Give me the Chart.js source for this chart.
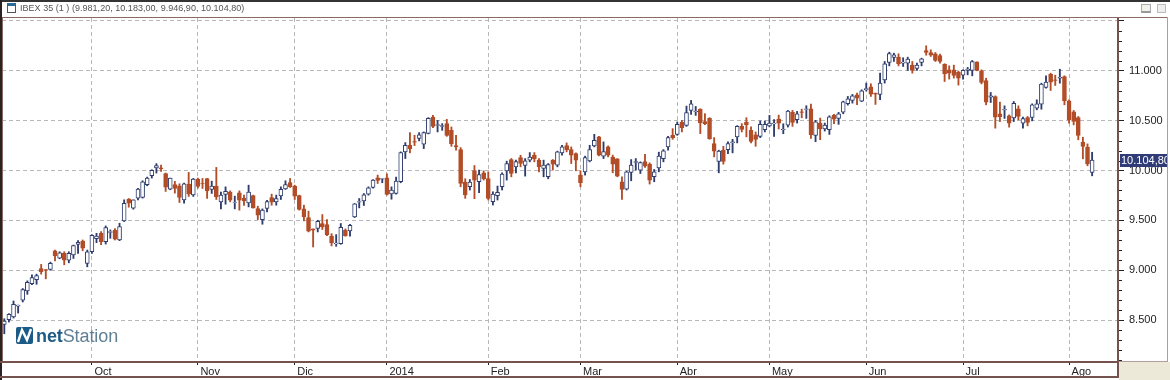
<!DOCTYPE html>
<html><head><meta charset="utf-8">
<script src="https://cdn.jsdelivr.net/npm/chart.js@4"></script>
<style>
html,body{margin:0;padding:0;background:#fff;overflow:hidden}
#wrap{position:relative;width:1170px;height:380px;font-family:"Liberation Sans",Arial,sans-serif;background:#fff}
canvas{position:absolute;left:0;top:0}
.b{position:absolute}
#title{position:absolute;left:20px;top:2px;font-size:9px;line-height:12px;color:#555;white-space:nowrap;letter-spacing:.03px}
#logo{position:absolute;left:36px;top:324px;font-size:18px;line-height:24px;color:#5f7f95;letter-spacing:-.1px}
#logo b{color:#1c5b85}
</style></head><body>
<div id="wrap">
<canvas id="c" width="1170" height="380"></canvas>
<div id="title">IBEX 35 (1 ) (9.981,20, 10.183,00, 9.946,90, 10.104,80)</div>
<div class="b" style="left:0;top:0;width:1170px;height:2px;background:#333"></div>
<div class="b" style="left:0;top:17px;width:1168px;height:1px;background:#8a6a64"></div>
<div class="b" style="left:0;top:0;width:2px;height:380px;background:#2a2220"></div>
<div class="b" style="left:2px;top:18px;width:1px;height:343px;background:#8a6a64"></div>
<div class="b" style="left:1167px;top:17px;width:1px;height:345px;background:#b39d98"></div>
<div class="b" style="left:1117px;top:18px;width:2px;height:359px;background:#74524d"></div>
<div class="b" style="left:0;top:361px;width:1119px;height:2px;background:#74524d"></div>
<div class="b" style="left:1119px;top:361px;width:49px;height:1px;background:#b39d98"></div>
<div class="b" style="left:0;top:376px;width:1119px;height:2px;background:#74524d"></div>
<div class="b" style="left:1119px;top:362px;width:51px;height:18px;background:#ece9d8"></div>
<div class="b" style="left:7px;top:3px;width:9px;height:10px;border:1px solid #555;border-top:3px solid #2d6a96;box-sizing:border-box"></div>
<div class="b" style="left:1141px;top:4px;width:10px;height:9px;border:1px solid #aaa;border-bottom:2px solid #999;box-sizing:border-box;background:#f2f2ea"></div>
<div class="b" style="left:1157px;top:4px;width:9px;height:9px;border:1px solid #bbb;box-sizing:border-box;background:#eee"></div>
<svg class="b" style="left:16px;top:327px" width="17" height="17" viewBox="0 0 17 17"><rect width="17" height="17" rx="2" fill="#1c5b85"/><path d="M2 15 L6 3 L11 13 L15 2" stroke="#fff" stroke-width="2.4" fill="none"/></svg>
<div id="logo"><b>net</b>Station</div>
</div>
<script>
const opens=[8456,8503,8530,8640,8698,8792,8866,8906,9017,9007,9007,9195,9121,9168,9101,9152,9259,9293,9068,9185,9316,9370,9286,9380,9400,9303,9494,9713,9622,9723,9730,9857,9948,10025,10028,9968,9813,9860,9847,9706,9864,9756,9914,9870,9920,9810,9843,9686,9759,9783,9680,9776,9723,9676,9749,9619,9508,9619,9729,9686,9746,9816,9880,9843,9749,9615,9528,9414,9418,9468,9458,9341,9264,9267,9401,9394,9535,9682,9696,9763,9830,9927,9914,9927,9766,9770,9887,10187,10253,10290,10323,10263,10373,10536,10453,10443,10470,10403,10250,10210,9884,9837,10000,9887,9977,9920,9687,9747,9837,9997,10110,10037,10130,10050,10104,10154,10104,10020,9937,10104,10054,10177,10250,10210,10170,9954,9987,10097,10247,10337,10144,10237,10134,10117,9887,9814,9980,10080,10004,10090,10064,9937,10027,10120,10237,10353,10363,10483,10453,10603,10587,10613,10490,10523,10270,10090,10204,10210,10280,10337,10443,10487,10403,10357,10343,10410,10447,10470,10516,10406,10456,10583,10509,10589,10613,10619,10352,10476,10416,10409,10556,10523,10586,10670,10703,10760,10696,10810,10840,10777,10763,10910,11084,11134,11137,11078,11077,11057,11024,11084,11204,11184,11171,11154,11064,11010,11010,10987,10957,11004,11003,11090,10999,10903,10736,10742,10568,10609,10548,10528,10619,10475,10532,10532,10625,10665,10833,10966,10910,10926,10943,10699,10588,10532,10284,10234,9981.2];
const highs=[8513,8564,8691,8650,8816,8893,8953,8960,9058,9007,9081,9202,9185,9185,9185,9252,9296,9303,9202,9357,9370,9387,9444,9404,9417,9471,9706,9719,9706,9820,9897,9934,10008,10069,10055,9975,9924,9891,9867,9874,9981,9921,9924,9920,9920,9893,10031,9783,9836,9796,9743,9796,9753,9853,9753,9642,9615,9702,9763,9753,9836,9897,9920,9853,9753,9652,9592,9414,9501,9558,9508,9367,9357,9468,9414,9461,9669,9719,9769,9836,9910,9954,9920,9967,9836,9934,10187,10280,10380,10353,10380,10387,10530,10553,10503,10470,10513,10437,10353,10230,9917,9910,10050,10004,9997,9987,9787,9844,9977,10094,10120,10104,10153,10120,10180,10180,10120,10104,10070,10110,10194,10253,10277,10237,10177,9997,10144,10253,10363,10343,10287,10247,10154,10120,9937,9994,10110,10120,10087,10163,10077,10010,10184,10210,10343,10420,10487,10503,10646,10703,10643,10620,10570,10530,10330,10204,10243,10287,10313,10450,10470,10530,10437,10387,10497,10497,10553,10510,10556,10469,10603,10603,10593,10616,10650,10666,10503,10526,10476,10549,10563,10583,10696,10743,10763,10777,10810,10877,10870,10777,10977,11094,11187,11177,11171,11131,11137,11094,11077,11127,11251,11211,11184,11167,11071,11050,11057,10997,11010,11034,11104,11090,11010,10926,10783,10749,10686,10649,10558,10692,10649,10535,10542,10669,10709,10876,10950,10976,10956,11016,10950,10709,10602,10542,10334,10267,10183];
const lows=[8362,8480,8520,8570,8681,8758,8856,8859,8960,8913,9000,9094,9115,9054,9074,9118,9168,9195,9034,9168,9276,9256,9262,9320,9303,9296,9488,9632,9612,9706,9723,9847,9924,9975,9992,9790,9807,9773,9679,9672,9740,9740,9824,9820,9720,9770,9709,9615,9662,9686,9615,9602,9649,9635,9622,9508,9461,9585,9652,9652,9709,9810,9830,9709,9602,9495,9384,9233,9384,9408,9347,9244,9240,9260,9341,9341,9528,9625,9649,9753,9823,9870,9877,9753,9712,9763,9877,10120,10177,10250,10297,10220,10367,10430,10387,10403,10343,10243,10203,9837,9721,9804,9717,9777,9904,9704,9654,9704,9804,9904,9937,9977,10037,9944,10087,10087,9987,9937,9917,10004,10037,10154,10187,10070,9997,9837,9954,10087,10237,10147,10120,10137,9977,9937,9711,9804,9897,10004,9970,10030,9864,9887,9987,10087,10204,10313,10353,10387,10443,10563,10553,10370,10460,10313,10137,9977,10064,10170,10177,10277,10387,10337,10277,10243,10330,10387,10437,10343,10416,10369,10436,10443,10476,10529,10523,10322,10289,10309,10396,10362,10469,10463,10569,10656,10676,10660,10690,10797,10743,10663,10710,10877,11050,11094,11050,11044,11004,10977,11004,11050,11157,11144,11094,11077,10893,10917,10927,10857,10917,10960,10950,11000,10869,10659,10682,10425,10491,10522,10435,10491,10508,10425,10448,10498,10609,10615,10826,10803,10853,10876,10659,10475,10458,10308,10117,10047,9946.9];
const closes=[8490,8557,8658,8650,8805,8879,8926,8947,8984,9000,9068,9142,9175,9101,9168,9246,9279,9222,9185,9350,9343,9286,9427,9388,9310,9437,9672,9672,9706,9813,9887,9924,10002,10049,10018,9834,9924,9820,9730,9867,9766,9914,9840,9866,9796,9843,9736,9753,9790,9702,9683,9702,9696,9783,9625,9552,9602,9689,9682,9719,9810,9860,9836,9743,9609,9535,9391,9401,9491,9434,9354,9274,9273,9431,9344,9451,9666,9689,9756,9826,9903,9900,9920,9760,9803,9893,10180,10253,10220,10284,10357,10380,10523,10443,10460,10450,10353,10270,10237,9870,9754,9884,9904,9960,9917,9721,9764,9780,9964,10070,9970,10090,10070,10097,10134,10117,10037,10054,10060,10064,10187,10237,10210,10154,10104,9877,10130,10210,10303,10154,10190,10154,10064,9944,9811,9987,10054,10090,10080,10044,9904,9987,10144,10197,10330,10330,10463,10430,10580,10670,10597,10477,10470,10320,10194,10194,10090,10270,10287,10443,10413,10457,10293,10313,10463,10463,10477,10476,10476,10416,10596,10483,10569,10583,10619,10359,10489,10416,10456,10539,10516,10569,10690,10720,10750,10726,10800,10823,10767,10767,10877,11070,11174,11161,11071,11087,11117,11004,11057,11120,11184,11157,11104,11094,10970,10977,10954,10927,11004,11017,11093,11003,10883,10686,10749,10535,10541,10615,10475,10675,10542,10522,10482,10659,10669,10866,10886,10886,10903,10936,10699,10508,10492,10351,10241,10067,10104.8];
const monthIndex=[19,42,63,83,105,125,146,166,187,208,231];
const monthLabels=["Oct","Nov","Dic","2014","Feb","Mar","Abr","May","Jun","Jul","Ago"];
const priceTicks=[8500,9000,9500,10000,10500,11000,11500];
const priceLabels=["8.500","9.000","9.500","10.000","10.500","11.000",""];
const minorTicks=[8100,8200,8300,8400,8600,8700,8800,8900,9100,9200,9300,9400,9600,9700,9800,9900,10100,10200,10300,10400,10600,10700,10800,10900,11100,11200,11300,11400];

const UP="#2f3d6e",DOWN="#b24d27",GRID="#b8b8b8",AXIS="#222";
const isUp=(i)=>closes[i]>=opens[i];
const idx=opens.map((_,i)=>i);
const fmtK=v=>String(Math.trunc(v)).replace(/\B(?=(\d{3})+$)/g,".");

const extras={id:"extras",
 afterDraw(ch){
  const c=ch.ctx,y=ch.scales.y,a=ch.chartArea;
  c.save();
  c.strokeStyle=AXIS;c.lineWidth=1;c.beginPath();
  minorTicks.forEach(v=>{const p=Math.round(y.getPixelForValue(v))+.5;c.moveTo(a.right+2,p);c.lineTo(a.right+5,p);});
  c.stroke();
  const last=closes[closes.length-1],p=y.getPixelForValue(last);
  c.fillStyle="#2f3c78";c.fillRect(a.right+3,Math.round(p)-6,48,13);
  c.fillStyle="#fff";c.font='11px "Liberation Sans"';c.textAlign="left";c.textBaseline="middle";
  c.fillText(fmtK(last)+","+last.toFixed(2).split(".")[1],a.right+4,Math.round(p)+.5);
  c.restore();
 }};

new Chart(document.getElementById("c"),{
 type:"bar",
 data:{datasets:[
  {label:"Rango",data:idx.map(i=>({x:i,y:[lows[i],highs[i]]})),barThickness:1.2,
   backgroundColor:idx.map(i=>isUp(i)?UP:DOWN),order:2,grouped:false},
  {label:"Cuerpo",data:idx.map(i=>({x:i,y:[Math.min(opens[i],closes[i]),Math.max(opens[i],closes[i])]})),barThickness:4,
   backgroundColor:idx.map(i=>isUp(i)?"#fff":DOWN),borderColor:idx.map(i=>isUp(i)?UP:DOWN),borderWidth:1,borderSkipped:false,order:1,grouped:false}
 ]},
 plugins:[extras],
 options:{responsive:false,animation:false,
  layout:{padding:{top:18,left:2,right:1,bottom:0}},
  plugins:{legend:{display:false},tooltip:{enabled:false},title:{display:false}},
  scales:{
   x:{type:"linear",min:-0.5,max:241.4,offset:false,
    afterBuildTicks(s){s.ticks=monthIndex.map(v=>({value:v}));},
    afterFit(s){s.height=19;},
    ticks:{autoSkip:false,maxRotation:0,align:"start",labelOffset:2.5,padding:0,color:AXIS,font:{family:"Liberation Sans",size:11},
     callback:(v)=>monthLabels[monthIndex.indexOf(v)]},
    grid:{offset:false,color:GRID,tickColor:AXIS,tickLength:4,drawTicks:true},
    border:{display:false,dash:[4,3]}},
   y:{type:"linear",position:"right",min:8089,max:11530,
    afterBuildTicks(s){s.ticks=priceTicks.map(v=>({value:v}));},
    afterFit(s){s.width=52;},
    ticks:{padding:5,color:AXIS,font:{family:"Liberation Sans",size:11},callback:v=>priceLabels[priceTicks.indexOf(v)]},
    grid:{color:GRID,tickColor:AXIS,tickLength:7},
    border:{display:false,dash:[4,3]}}
  }}
});
</script>
</body></html>
